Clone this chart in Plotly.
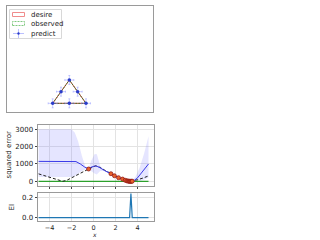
import plotly.graph_objects as go

# ---------------- data ----------------
# top panel: triangle shape
desire_x = [-1.0, 0.0, 1.0, -1.0]
desire_y = [0.0, 1.4, 0.0, 0.0]
observed_x = [-1.0, 0.0, 1.0, -1.0]
observed_y = [0.0, 1.4, 0.0, 0.0]
predict_x = [-1.0, -0.5, 0.0, 0.5, 1.0, 0.0]
predict_y = [0.0, 0.7, 1.4, 0.7, 0.0, 0.0]
predict_err = [0.27, 0.27, 0.27, 0.27, 0.27, 0.27]
legend_labels = ["desire", "observed", "predict"]

# middle panel: squared error
mean_x = [-5, -4, -3, -2, -1.6, -1.2, -0.8, -0.45, -0.2, 0.1, 0.3, 0.6, 1.0, 1.58, 1.9, 2.27,
          2.64, 2.88, 3.1, 3.35, 3.7, 4.0, 4.5, 5.0]
mean_y = [1150, 1150, 1150, 1150, 1140, 1000, 820, 720, 820, 880, 870, 780, 620, 440, 320, 210,
          130, 60, 15, 0, 50, 200, 600, 1000]
band_x = [-5, -2.0, -1.7, -1.4, -1.05, -0.75, -0.45, -0.2, 0.1, 0.3, 0.6, 1.0, 1.5, 2.0, 2.5,
          3.0, 3.4, 3.8, 4.2, 4.6, 5.0]
band_upper = [3000, 3000, 2800, 2300, 1450, 850, 740, 1200, 1570, 1560, 900, 640, 480, 340, 170,
              50, 20, 250, 800, 1600, 2600]
band_lower = [250, 250, 300, 450, 600, 680, 700, 600, 450, 400, 600, 600, 400, 300, 110,
              20, 0, 0, 0, 100, 200]
true_x = [-5, -4, -3, -2.8, -2.4, -1.5, -0.45, 0.2, 0.6, 1.0, 1.58, 1.9, 2.27, 2.64, 2.88, 3.1,
          3.35, 3.6, 4.0, 4.5, 5.0]
true_y = [430, 240, 40, 0, 70, 380, 710, 900, 800, 650, 440, 320, 210, 130, 60, 15,
          0, 20, 90, 190, 310]
zero_x = [-5, 5]
zero_y = [0, 0]
obs_x = [-0.45, 1.58, 1.9, 2.27, 2.64, 2.88, 3.02, 3.12, 3.2, 3.27, 3.33, 3.4, 3.46, 3.52]
obs_y = [710, 440, 320, 210, 130, 60, 30, 15, 8, 4, 2, 1, 4, 8]

# bottom panel: expected improvement
ei_x = [-5, 3.28, 3.4, 3.52, 5]
ei_y = [0, 0, 0.245, 0, 0]

# ---------------- figure ----------------
W, H = 320, 240


def px(x):
    return x / W


def py(y):
    return 1 - y / H


fig = go.Figure()

fig.add_trace(go.Scatter(x=desire_x, y=desire_y, mode="lines", name=legend_labels[0],
                         line=dict(color="rgba(214,39,40,0.85)", width=1),
                         showlegend=False, xaxis="x", yaxis="y"))
fig.add_trace(go.Scatter(x=observed_x, y=observed_y, mode="lines", name=legend_labels[1],
                         line=dict(color="rgba(30,120,30,0.85)", width=1, dash="2px,1px"),
                         showlegend=False, xaxis="x", yaxis="y"))
fig.add_trace(go.Scatter(x=predict_x, y=predict_y, mode="markers", name=legend_labels[2],
                         marker=dict(color="#2a3cc8", size=3.5),
                         error_x=dict(type="data", array=predict_err, color="rgba(120,130,255,0.4)",
                                      thickness=1, width=1),
                         error_y=dict(type="data", array=predict_err, color="rgba(120,130,255,0.4)",
                                      thickness=1, width=1),
                         showlegend=False, xaxis="x", yaxis="y"))

# middle
fig.add_trace(go.Scatter(x=band_x + band_x[::-1], y=band_upper + band_lower[::-1],
                         mode="lines", fill="toself", fillcolor="rgba(110,110,255,0.18)",
                         line=dict(width=0), showlegend=False, xaxis="x2", yaxis="y2"))
fig.add_trace(go.Scatter(x=zero_x, y=zero_y, mode="lines", line=dict(color="#2ca02c", width=1.2),
                         showlegend=False, xaxis="x2", yaxis="y2"))
fig.add_trace(go.Scatter(x=true_x, y=true_y, mode="lines",
                         line=dict(color="#222222", width=1, dash="3px,2px"),
                         showlegend=False, xaxis="x2", yaxis="y2"))
fig.add_trace(go.Scatter(x=mean_x, y=mean_y, mode="lines", line=dict(color="#3a3ae8", width=1),
                         showlegend=False, xaxis="x2", yaxis="y2"))
fig.add_trace(go.Scatter(x=obs_x, y=obs_y, mode="markers",
                         marker=dict(color="#e8622c", size=4, line=dict(color="#8b1010", width=0.7)),
                         showlegend=False, xaxis="x2", yaxis="y2"))

# bottom
fig.add_trace(go.Scatter(x=ei_x, y=ei_y, mode="lines", line=dict(color="#1f77b4", width=1.2),
                         showlegend=False, xaxis="x3", yaxis="y3"))

grid = "#e3e3e3"
border = "#9a9a9a"
font_fam = "DejaVu Sans"
tickfont = dict(size=7, color="#222222", family=font_fam)

# legend drawn as a small boxed key (matplotlib style)
shapes = [
    dict(type="rect", xref="paper", yref="paper", x0=px(9.5), x1=px(61.5), y0=py(38.5), y1=py(9.5),
         line=dict(color="#d8d8d8", width=1), fillcolor="rgba(255,255,255,0.85)", layer="above"),
    dict(type="rect", xref="paper", yref="paper", x0=px(12.5), x1=px(24.5), y0=py(16.5), y1=py(12.5),
         line=dict(color="#f08c8c", width=1), fillcolor="white", layer="above"),
    dict(type="rect", xref="paper", yref="paper", x0=px(12.5), x1=px(24.5), y0=py(25.5), y1=py(21.5),
         line=dict(color="#80c880", width=1, dash="2px,1px"), fillcolor="white", layer="above"),
    dict(type="line", xref="paper", yref="paper", x0=px(13), x1=px(24), y0=py(33.5), y1=py(33.5),
         line=dict(color="rgba(120,130,255,0.5)", width=1), layer="above"),
    dict(type="line", xref="paper", yref="paper", x0=px(18.5), x1=px(18.5), y0=py(29), y1=py(38),
         line=dict(color="rgba(120,130,255,0.5)", width=1), layer="above"),
    dict(type="circle", xref="paper", yref="paper", x0=px(17.5), x1=px(19.5), y0=py(34.5), y1=py(32.5),
         line=dict(color="#2a3cc8", width=0.5), fillcolor="#2a3cc8", layer="above"),
]
legend_rows = [14.5, 24, 33.5]
annotations = [
    dict(text=lab, x=px(29), y=py(yy), xref="paper", yref="paper", xanchor="left",
         yanchor="middle", showarrow=False, font=dict(size=7, family=font_fam, color="#222"))
    for lab, yy in zip(legend_labels, legend_rows)
]
annotations += [
    dict(text="squared error", textangle=-90, x=px(8.5), y=py(155), xref="paper",
         yref="paper", xanchor="center", yanchor="middle", showarrow=False,
         font=dict(size=7, family=font_fam, color="#222")),
    dict(text="EI", textangle=-90, x=px(11.5), y=py(207), xref="paper",
         yref="paper", xanchor="center", yanchor="middle", showarrow=False,
         font=dict(size=7, family=font_fam, color="#222")),
    dict(text="<i>x</i>", x=px(94), y=py(234), xref="paper", yref="paper",
         xanchor="center", yanchor="middle", showarrow=False,
         font=dict(size=6, family=font_fam, color="#222")),
]

fig.update_layout(
    width=W, height=H,
    margin=dict(l=0, r=0, t=0, b=0),
    paper_bgcolor="white", plot_bgcolor="white",
    showlegend=False,
    shapes=shapes,
    annotations=annotations,
    xaxis=dict(domain=[px(7), px(153)], range=[-3.74, 5.02], showgrid=False, zeroline=False,
               showticklabels=False, ticks="", showline=True, mirror=True, linecolor=border,
               linewidth=1),
    yaxis=dict(domain=[py(112), py(6)], range=[-0.52, 5.84], showgrid=False, zeroline=False,
               showticklabels=False, ticks="", showline=True, mirror=True, linecolor=border,
               linewidth=1),
    xaxis2=dict(domain=[px(37.5), px(154)], range=[-5.1, 5.5], showgrid=True, gridcolor=grid,
                zeroline=False, showticklabels=False, tickvals=[-4, -2, 0, 2, 4], ticks="outside",
                ticklen=2, tickcolor="#444", showline=True, mirror=True, linecolor=border,
                linewidth=1, anchor="y2"),
    yaxis2=dict(domain=[py(186), py(125)], range=[-270, 3250], showgrid=True, gridcolor=grid,
                zeroline=False, tickvals=[0, 1000, 2000, 3000], ticks="outside", ticklen=2,
                tickcolor="#444", tickfont=tickfont, showline=True, mirror=True,
                linecolor=border, linewidth=1, anchor="x2"),
    xaxis3=dict(domain=[px(37.5), px(154)], range=[-5.1, 5.5], showgrid=True, gridcolor=grid,
                zeroline=False, tickvals=[-4, -2, 0, 2, 4], ticks="", ticklen=0,
                tickfont=dict(size=6.5, color="#222222", family=font_fam),
                showline=True, mirror=True,
                linecolor=border, linewidth=1, anchor="y3"),
    yaxis3=dict(domain=[py(221), py(193)], range=[-0.035, 0.25], showgrid=True, gridcolor=grid,
                zeroline=False, tickvals=[0.0, 0.2], ticktext=["0.0", "0.2"], ticks="outside",
                ticklen=2, tickcolor="#444", tickfont=tickfont, showline=True, mirror=True,
                linecolor=border, linewidth=1, anchor="x3"),
)

fig.write_html("out.html", post_script="document.body.style.margin='0px';",
               config={"displayModeBar": False})
